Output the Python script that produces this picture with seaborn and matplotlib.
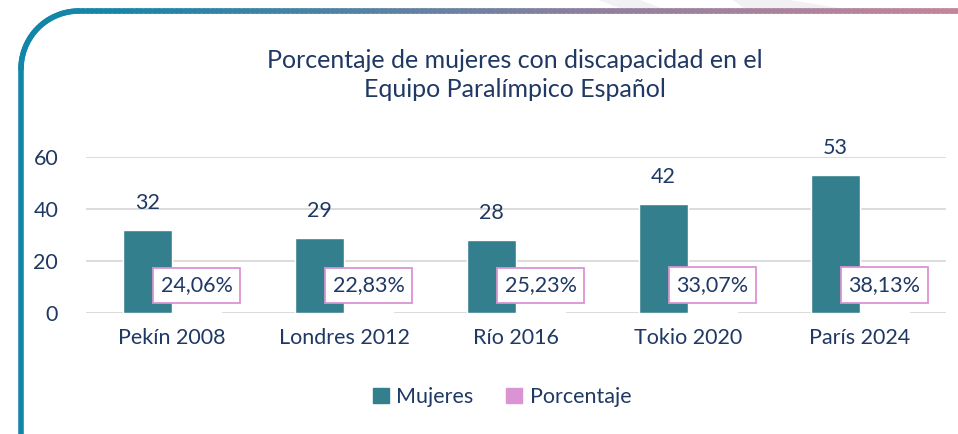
import numpy as np
import pandas as pd
import matplotlib.pyplot as plt
import seaborn as sns
from matplotlib.collections import LineCollection
from matplotlib.patches import Patch, Polygon

# Data
juegos = ['Pekín 2008', 'Londres 2012', 'Río 2016', 'Tokio 2020', 'París 2024']
mujeres = [32, 29, 28, 42, 53]
porcentaje = [24.06, 22.83, 25.23, 33.07, 38.13]
yticks = [0, 20, 40, 60]

TEAL = '#347F8E'
PINK = '#DA94D3'
NAVY = '#1F3864'

df = pd.concat([
    pd.DataFrame({'juego': juegos, 'valor': mujeres, 'serie': 'Mujeres'}),
    pd.DataFrame({'juego': juegos, 'valor': [p / 100 for p in porcentaje], 'serie': 'Porcentaje'}),
])

sns.set_style('white')
plt.rcParams['font.family'] = ['Lato', 'DejaVu Sans']

fig = plt.figure(figsize=(9.58, 4.34), dpi=100)

# faint watermark shapes behind the top edge
for poly in [[(598, 0), (640, 0), (664, 9), (622, 9)],
             [(733, 0), (790, 0), (845, 9), (745, 9)]]:
    fig.add_artist(Polygon([(x / 958, 1 - y / 434) for x, y in poly], closed=True,
                           transform=fig.transFigure, fc='#F1F1F4', ec='none'))

ax = fig.add_axes([86 / 958, 1 - 313 / 434, 860 / 958, 156 / 434])

sns.barplot(data=df, x='juego', y='valor', hue='serie', order=juegos,
            palette=[TEAL, PINK], width=0.57, saturation=1, legend=False, ax=ax)

ax.set_ylim(0, 60)
ax.set_xlim(-0.5, len(juegos) - 0.5)
ax.set_yticks(yticks)
ax.yaxis.grid(True, color='#D9D9D9', linewidth=1.3)
ax.set_axisbelow(True)
for s in ax.spines.values():
    s.set_visible(False)
ax.set_xlabel('')
ax.set_ylabel('')
ax.tick_params(axis='y', labelsize=15.5, labelcolor=NAVY, length=0, pad=20)
ax.tick_params(axis='x', labelsize=15.5, labelcolor=NAVY, length=0, pad=11)

# data labels
bars_m = ax.containers[0]
bars_p = ax.containers[1]
for bar, v in zip(bars_m, mujeres):
    ax.annotate(str(v), (bar.get_x() + bar.get_width() / 2, bar.get_height()),
                xytext=(0, 19.5), textcoords='offset points', ha='center', va='center',
                fontsize=15.5, color=NAVY)
for bar, p in zip(bars_p, porcentaje):
    txt = f'{p:.2f}'.replace('.', ',') + '%'
    ax.annotate(txt, (bar.get_x() + bar.get_width() / 2, bar.get_height()),
                xytext=(0, 19.5), textcoords='offset points', ha='center', va='center',
                fontsize=15.5, color=NAVY,
                bbox=dict(boxstyle='square,pad=0.36', fc='white', ec=PINK, lw=1.3))

fig.text(515 / 958, 1 - 75 / 434, 'Porcentaje de mujeres con discapacidad en el\nEquipo Paralímpico Español',
         ha='center', va='center', fontsize=18, color=NAVY, linespacing=1.35)

handles = [Patch(color=TEAL, label='Mujeres'), Patch(color=PINK, label='Porcentaje')]
fig.legend(handles=handles, loc='center', bbox_to_anchor=(502 / 958, 1 - 397 / 434), ncol=2,
           frameon=False, fontsize=15.5, labelcolor=NAVY, handlelength=0.75, handleheight=0.75,
           handletextpad=0.35, columnspacing=1.5)

# decorative frame: rounded top-left corner with gradient top line
r = 58
top, left = 11, 21
pts = [(left, 440), (left, top + r)]
for a in np.linspace(np.pi, np.pi / 2, 40):
    pts.append((left + r + r * np.cos(a), top + r - r * np.sin(a)))
pts += list(zip(np.linspace(left + r, 965, 200), [top] * 200))
pts = np.array(pts, dtype=float)
fx = pts[:, 0] / 958
fy = 1 - pts[:, 1] / 434
segs = [[(fx[i], fy[i]), (fx[i + 1], fy[i + 1])] for i in range(len(fx) - 1)]
stops_x = [0, 120, 600, 958]
stops_c = [np.array(c) / 255 for c in [(0x10, 0x86, 0xA8), (0x18, 0x85, 0xA8),
                                        (0x90, 0x7F, 0x9F), (0xC4, 0x85, 0x9B)]]
cols = []
for i in range(len(segs)):
    xm = (pts[i, 0] + pts[i + 1, 0]) / 2
    cols.append([np.interp(xm, stops_x, [c[k] for c in stops_c]) for k in range(3)])
lc = LineCollection(segs, colors=cols, linewidths=4, transform=fig.transFigure,
                    capstyle='round', joinstyle='round')
fig.add_artist(lc)

fig.savefig('out.png', dpi=100)
